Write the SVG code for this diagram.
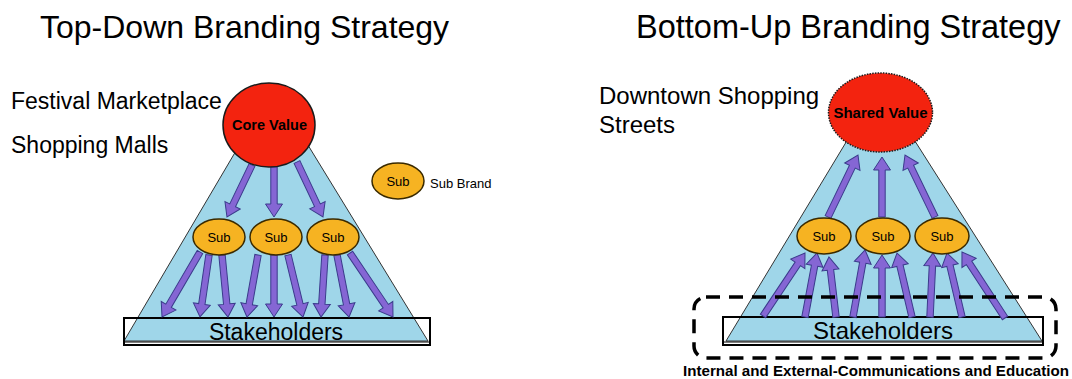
<svg xmlns="http://www.w3.org/2000/svg" width="1072" height="379" viewBox="0 0 1072 379">
<style>
text{font-family:"Liberation Sans",Arial,sans-serif;fill:#000}
.title{font-size:32px}
.lbl{font-size:23px}
.tri{fill:#9fd6e9;stroke:#333;stroke-width:1}
.stk{fill:none;stroke:#000;stroke-width:2}
.stkt{font-size:23px;text-anchor:middle}
.arr path{fill:#8566d4;stroke:#3b3b8c;stroke-width:1;stroke-linejoin:miter}
.sub{fill:#f6b322;stroke:#3a2a00;stroke-width:1.5}
.subt{font-size:13px;text-anchor:middle}
.core{fill:#f3230f;stroke:#1a1a1a;stroke-width:1.5}
.coret{font-size:14.5px;font-weight:bold;text-anchor:middle}
</style>
<rect width="1072" height="379" fill="#fff"/>

<g id="left-title"><text class="title" x="40" y="38">Top-Down Branding Strategy</text></g>
<g id="right-title"><text class="title" x="636" y="38" style="font-size:32.5px">Bottom-Up Branding Strategy</text></g>
<g id="left-labels">
<text class="lbl" x="11" y="109">Festival Marketplace</text>
<text class="lbl" x="11" y="153">Shopping Malls</text>
</g>
<g id="right-labels">
<text class="lbl" x="599" y="104" style="font-size:24px">Downtown Shopping</text>
<text class="lbl" x="599" y="133" style="font-size:24px">Streets</text>
</g>

<!-- Left pyramid -->
<g id="left-pyramid"><polygon class="tri" points="273,88 124,341 428,341"/></g>
<g id="left-stakeholders">
<rect class="stk" x="124" y="318" width="306" height="27"/>
<line x1="124" y1="342" x2="430" y2="342" stroke="#000" stroke-width="1.2"/>
<text class="stkt" x="276" y="340">Stakeholders</text>
</g>

<!-- Right pyramid -->
<g id="right-pyramid"><polygon class="tri" points="880,86 726,341 1042,341"/></g>
<g id="right-stakeholders">
<rect class="stk" x="723" y="317" width="320" height="28"/>
<line x1="723" y1="342" x2="1043" y2="342" stroke="#000" stroke-width="1.2"/>
<text class="stkt" x="883" y="339" style="font-size:24px">Stakeholders</text>
</g>

<g id="connectors" class="arr">
<!-- left: core to subs -->
<path transform="translate(252,165) rotate(115.7)" d="M0,-3.2H44.7V-8.5L57.7,0L44.7,8.5V3.2H0Z"/>
<path transform="translate(274,167) rotate(90)" d="M0,-3.2H37V-8.5L50,0L37,8.5V3.2H0Z"/>
<path transform="translate(297,162) rotate(64.7)" d="M0,-3.2H47.8V-8.5L60.8,0L47.8,8.5V3.2H0Z"/>
<!-- left: subs to stakeholders -->
<path transform="translate(200,252) rotate(120.3)" d="M0,-3.2H62.3V-8.5L75.3,0L62.3,8.5V3.2H0Z"/>
<path transform="translate(209,255) rotate(98.3)" d="M0,-3.2H49.6V-8.5L62.6,0L49.6,8.5V3.2H0Z"/>
<path transform="translate(222,255) rotate(84.5)" d="M0,-3.2H49.3V-8.5L62.3,0L49.3,8.5V3.2H0Z"/>
<path transform="translate(258,255) rotate(100.1)" d="M0,-3.2H50V-8.5L63,0L50,8.5V3.2H0Z"/>
<path transform="translate(274,255) rotate(90)" d="M0,-3.2H49V-8.5L62,0L49,8.5V3.2H0Z"/>
<path transform="translate(288,255) rotate(76.4)" d="M0,-3.2H50.8V-8.5L63.8,0L50.8,8.5V3.2H0Z"/>
<path transform="translate(325,255) rotate(93.7)" d="M0,-3.2H49.1V-8.5L62.1,0L49.1,8.5V3.2H0Z"/>
<path transform="translate(337,255) rotate(79)" d="M0,-3.2H50.2V-8.5L63.2,0L50.2,8.5V3.2H0Z"/>
<path transform="translate(350,253) rotate(56.1)" d="M0,-3.2H64.1V-8.5L77.1,0L64.1,8.5V3.2H0Z"/>
<!-- right: subs to shared value -->
<path transform="translate(828,217) rotate(-64.2)" d="M0,-3.2H55.9V-8.5L68.9,0L55.9,8.5V3.2H0Z"/>
<path transform="translate(882,217) rotate(-90)" d="M0,-3.2H47V-8.5L60,0L47,8.5V3.2H0Z"/>
<path transform="translate(935,217) rotate(-115.8)" d="M0,-3.2H55.9V-8.5L68.9,0L55.9,8.5V3.2H0Z"/>
<!-- right: stakeholders to subs -->
<path transform="translate(763,316) rotate(-56.3)" d="M0,-3.2H62.7V-8.5L75.7,0L62.7,8.5V3.2H0Z"/>
<path transform="translate(805,317) rotate(-79.4)" d="M0,-3.2H52.1V-8.5L65.1,0L52.1,8.5V3.2H0Z"/>
<path transform="translate(836,317) rotate(-96.7)" d="M0,-3.2H47.4V-8.5L60.4,0L47.4,8.5V3.2H0Z"/>
<path transform="translate(853,317) rotate(-79.8)" d="M0,-3.2H55.1V-8.5L68.1,0L55.1,8.5V3.2H0Z"/>
<path transform="translate(882,317) rotate(-90)" d="M0,-3.2H49V-8.5L62,0L49,8.5V3.2H0Z"/>
<path transform="translate(912,317) rotate(-103.2)" d="M0,-3.2H52.7V-8.5L65.7,0L52.7,8.5V3.2H0Z"/>
<path transform="translate(930,317) rotate(-87.3)" d="M0,-3.2H51.1V-8.5L64.1,0L51.1,8.5V3.2H0Z"/>
<path transform="translate(962,317) rotate(-103.2)" d="M0,-3.2H52.7V-8.5L65.7,0L52.7,8.5V3.2H0Z"/>
<path transform="translate(1005,318) rotate(-123.1)" d="M0,-3.2H65.8V-8.5L78.8,0L65.8,8.5V3.2H0Z"/>
</g>

<g id="core-value">
<ellipse class="core" cx="269" cy="125" rx="46" ry="42"/>
<text class="coret" x="269.5" y="130">Core Value</text>
</g>
<g id="left-sub1"><ellipse class="sub" cx="219" cy="237" rx="26" ry="18"/><text class="subt" x="219" y="242">Sub</text></g>
<g id="left-sub2"><ellipse class="sub" cx="276" cy="237" rx="26" ry="18"/><text class="subt" x="276" y="242">Sub</text></g>
<g id="left-sub3"><ellipse class="sub" cx="333" cy="237" rx="26" ry="18"/><text class="subt" x="333" y="242">Sub</text></g>
<g id="legend">
<ellipse class="sub" cx="398" cy="181" rx="26" ry="18"/><text class="subt" x="398" y="186">Sub</text>
<text x="430" y="188" style="font-size:13px">Sub Brand</text>
</g>

<g id="shared-value">
<ellipse class="core" cx="880.5" cy="112.5" rx="52" ry="39.5" style="stroke-dasharray:1.5 1.2"/>
<text class="coret" x="880.5" y="118" style="font-size:15px">Shared Value</text>
</g>
<g id="right-sub1"><ellipse class="sub" cx="824" cy="236" rx="27" ry="18"/><text class="subt" x="824" y="241">Sub</text></g>
<g id="right-sub2"><ellipse class="sub" cx="883" cy="236" rx="27" ry="18"/><text class="subt" x="883" y="241">Sub</text></g>
<g id="right-sub3"><ellipse class="sub" cx="942" cy="236" rx="27" ry="18"/><text class="subt" x="942" y="241">Sub</text></g>

<g id="communication-zone">
<rect x="694" y="297" width="362" height="61" rx="12" fill="none" stroke="#000" stroke-width="3.5" stroke-dasharray="14 9"/>
<text x="683" y="376" style="font-size:15px;font-weight:bold" textLength="386" lengthAdjust="spacingAndGlyphs">Internal and External-Communications and Education</text>
</g>
</svg>
